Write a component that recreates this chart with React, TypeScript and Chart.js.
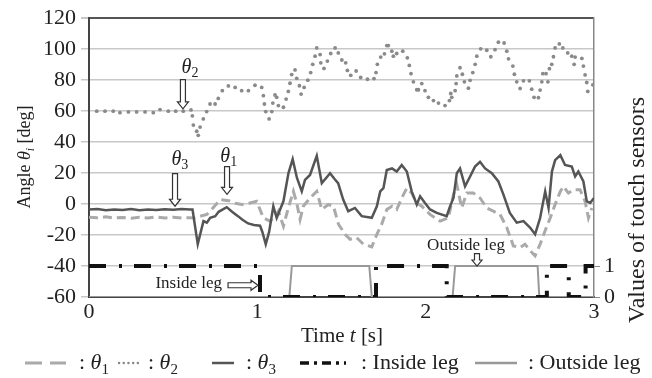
import React, { useEffect, useRef } from "react";
import { Chart, registerables } from "chart.js";

Chart.register(...registerables);

const FONT = '"Liberation Serif", "Times New Roman", serif';

// ---- data ----
const xTicks = [0, 1, 2, 3];
const yLeftTicks = [-60, -40, -20, 0, 20, 40, 60, 80, 100, 120];
const yRightTicks = [0, 1];

const theta1T = [0,0.05,0.1,0.15,0.2,0.25,0.3,0.35,0.4,0.45,0.5,0.55,0.6,0.62,0.7,0.72,0.78,0.83,0.87,0.907,0.95,0.996,1.036,1.075,1.105,1.125,1.155,1.184,1.214,1.234,1.254,1.273,1.313,1.353,1.383,1.422,1.452,1.482,1.521,1.551,1.59,1.63,1.68,1.71,1.739,1.769,1.8,1.828,1.858,1.888,1.917,1.947,1.977,2.026,2.086,2.135,2.165,2.185,2.214,2.244,2.283,2.323,2.363,2.402,2.442,2.482,2.521,2.561,2.59,2.62,2.65,2.68,2.709,2.74,2.769,2.8,2.818,2.848,2.878,2.917,2.947,2.967,2.987];
const theta1V = [-8.5,-8.9,-8.2,-9,-8.6,-9.2,-8.5,-9,-8.3,-9,-8.5,-9,-8.8,-9,-6.7,-4.6,2.9,2.2,0.5,-0.3,0.5,1.8,-8.9,-11,-8,-4.6,-14.2,-2.5,8.2,0.7,-9.9,-1.4,3.9,8.2,-3.5,-0.3,-1.4,-13,-19.5,-22.7,-21.7,-25.9,-27.6,-19.5,-13,-3.5,-1.4,-3.5,3.9,10.3,7.1,0.7,-1.4,-6.7,-11,-8.9,6.1,12.5,-2.5,7.1,7.1,3.9,-2.5,-4.6,-6.7,-15.2,-27,-28,-25.9,-30,-33.4,-25.9,-17.4,-8.9,-0.3,8.2,11.4,7.1,9.3,9.3,1.8,-8.9,-2.5];

const theta2T = [0.046,0.095,0.144,0.184,0.234,0.283,0.333,0.382,0.422,0.471,0.515,0.56,0.606,0.614,0.62,0.64,0.649,0.66,0.679,0.699,0.719,0.749,0.768,0.792,0.828,0.868,0.907,0.947,0.986,1.026,1.036,1.042,1.05,1.07,1.086,1.092,1.105,1.115,1.125,1.155,1.171,1.184,1.194,1.204,1.224,1.234,1.25,1.26,1.278,1.3,1.317,1.329,1.343,1.353,1.373,1.377,1.396,1.416,1.436,1.462,1.481,1.502,1.525,1.535,1.555,1.587,1.614,1.654,1.693,1.705,1.713,1.733,1.755,1.769,1.778,1.799,1.808,1.828,1.864,1.891,1.903,1.913,1.927,1.947,1.957,1.977,1.996,2.016,2.046,2.076,2.115,2.141,2.149,2.155,2.175,2.181,2.185,2.204,2.218,2.23,2.254,2.264,2.28,2.294,2.304,2.327,2.363,2.387,2.412,2.432,2.466,2.482,2.492,2.518,2.527,2.541,2.561,2.581,2.616,2.63,2.644,2.67,2.68,2.69,2.696,2.715,2.726,2.735,2.749,2.759,2.769,2.794,2.815,2.844,2.868,2.882,2.888,2.928,2.937,2.947,2.957,2.963,2.993];
const theta2V = [60,60,60,59,59.5,59.5,59.5,59,61,60,60,60,60.8,57,51,47,44.4,49.7,55,59.7,64.6,64.6,68.2,73.2,76.3,75.3,73.2,73.2,76.7,75.3,70,64.6,59.7,55,59.7,65.2,70.4,68.9,63.6,62.5,67.8,72.7,78,83.6,86.6,81.2,76.4,71,75.3,80,84.9,90.2,95.5,100.8,96.5,91.2,87.6,92.3,97.2,100.8,97.6,93,91.2,86.3,83.1,85.9,81.7,80.6,81,84.9,90.2,94.9,97,102.3,102.3,98.7,95.5,97.2,98.7,94.4,89.5,84.2,78.9,73.8,73.8,77.8,73.2,68.9,66.8,65.2,63.6,66.8,71.4,68.9,73.2,77.8,82.7,88,83.8,78.9,74.8,79.9,84.9,90.2,95.5,100.2,99.3,95.1,99.7,104.5,104,98.7,93.8,89.1,83.8,78.9,74.6,79.6,79.6,74.2,68.9,68.7,73.6,78.9,84.2,84.2,78.9,87.4,90.2,95.1,100.8,103.4,100.8,97.6,95.5,90.2,94.9,94,89.1,83.4,78.5,72.7,77];

const theta3T = [0,0.05,0.1,0.15,0.2,0.25,0.3,0.35,0.4,0.45,0.5,0.55,0.6,0.615,0.646,0.68,0.7,0.72,0.75,0.77,0.818,0.85,0.885,0.91,0.945,0.98,1.016,1.03,1.05,1.07,1.095,1.115,1.155,1.185,1.21,1.235,1.264,1.283,1.313,1.353,1.383,1.41,1.432,1.46,1.48,1.51,1.54,1.58,1.62,1.68,1.71,1.73,1.749,1.769,1.8,1.828,1.858,1.888,1.917,1.947,1.967,1.996,2.026,2.066,2.125,2.145,2.165,2.185,2.204,2.234,2.264,2.293,2.323,2.353,2.393,2.432,2.462,2.5,2.541,2.581,2.62,2.65,2.68,2.71,2.73,2.75,2.769,2.8,2.828,2.868,2.888,2.907,2.937,2.957,2.977,3.0];
const theta3V = [-3.5,-3.2,-4,-3.5,-3.8,-3.2,-4,-3.5,-3.8,-3.3,-3.6,-3.2,-3.5,-3.5,-25.9,-11,-12,-8.9,-7.8,-5,-2,-5,-7.8,-10,-12.5,-13.5,-14,-18,-26,-18,-1.4,-9,1.8,20,29,17,8.2,15.6,18.8,31.2,13.5,17,19.9,16,13.5,2.9,-4.6,-2.5,-7.8,-8.9,-1.4,8.2,10.3,22,23,21,25.2,21,8.2,-0.3,5,0.7,-3.5,-5.7,-7.8,-1.4,3.9,19.9,23,11.4,17.8,24.2,27.3,23,19.9,14.6,6.1,-5.7,-12,-11,-15.2,-19.5,-8.9,8.2,-2.5,21,28.4,31.6,25.2,24.2,17.8,21,14.6,1.8,0.7,3.9];

const insideT = [0, 1.016, 1.705, 2.125, 2.72, 2.85, 2.95, 3.0];
const insideV = [1, 0, 1, 0, 1, 0, 1, 1];

const outsideT = [0, 1.19, 1.205, 1.665, 1.68, 2.16, 2.175, 2.665, 2.675, 3.0];
const outsideV = [0, 0, 1, 1, 0, 0, 1, 1, 0, 0];

const zip = (t: number[], v: number[]) => t.map((x, i) => ({ x, y: v[i] }));

type Part = { t: string; it?: boolean; sub?: boolean };

function rich(ctx: CanvasRenderingContext2D, parts: Part[], x: number, y: number, size: number, align: "center" | "left" = "center") {
  const fontOf = (p: Part) => `${p.it ? "italic " : ""}${p.sub ? Math.round(size * 0.68) : size}px ${FONT}`;
  const widths = parts.map((p) => { ctx.font = fontOf(p); return ctx.measureText(p.t).width; });
  const total = widths.reduce((a, b) => a + b, 0);
  let cx = align === "center" ? x - total / 2 : x;
  ctx.textBaseline = "middle";
  ctx.textAlign = "left";
  parts.forEach((p, i) => {
    ctx.font = fontOf(p);
    ctx.fillText(p.t, cx, y + (p.sub ? size * 0.3 : 0));
    cx += widths[i];
  });
}

function hollowArrow(ctx: CanvasRenderingContext2D, x1: number, y1: number, x2: number, y2: number, shaft = 5, head = 11, headLen = 7) {
  const dx = x2 - x1, dy = y2 - y1;
  const len = Math.hypot(dx, dy);
  const ux = dx / len, uy = dy / len;
  const nx = -uy, ny = ux;
  const neckX = x2 - ux * headLen, neckY = y2 - uy * headLen;
  const pts = [
    [x1 + nx * shaft / 2, y1 + ny * shaft / 2],
    [neckX + nx * shaft / 2, neckY + ny * shaft / 2],
    [neckX + nx * head / 2, neckY + ny * head / 2],
    [x2, y2],
    [neckX - nx * head / 2, neckY - ny * head / 2],
    [neckX - nx * shaft / 2, neckY - ny * shaft / 2],
    [x1 - nx * shaft / 2, y1 - ny * shaft / 2],
  ];
  ctx.beginPath();
  pts.forEach(([px, py], i) => (i ? ctx.lineTo(px, py) : ctx.moveTo(px, py)));
  ctx.closePath();
  ctx.fillStyle = "#fff";
  ctx.fill();
  ctx.strokeStyle = "#333";
  ctx.lineWidth = 1.2;
  ctx.setLineDash([]);
  ctx.stroke();
}

const decorPlugin = {
  id: "decor",
  afterDatasetsDraw(chart: any) {
    const ctx: CanvasRenderingContext2D = chart.ctx;
    const X = chart.scales.x, Y = chart.scales.y, Y2 = chart.scales.y2;
    ctx.save();
    ctx.fillStyle = "#222";
    // theta_2
    rich(ctx, [{ t: "θ", it: true }, { t: "2", sub: true }], X.getPixelForValue(0.6), Y.getPixelForValue(88), 20);
    hollowArrow(ctx, X.getPixelForValue(0.558), Y.getPixelForValue(80.4), X.getPixelForValue(0.558), Y.getPixelForValue(61.5));
    // theta_3
    ctx.fillStyle = "#222";
    rich(ctx, [{ t: "θ", it: true }, { t: "3", sub: true }], X.getPixelForValue(0.54), Y.getPixelForValue(28.6), 20);
    hollowArrow(ctx, X.getPixelForValue(0.511), Y.getPixelForValue(19.7), X.getPixelForValue(0.511), Y.getPixelForValue(-1.4));
    // theta_1
    ctx.fillStyle = "#222";
    rich(ctx, [{ t: "θ", it: true }, { t: "1", sub: true }], X.getPixelForValue(0.83), Y.getPixelForValue(30.5), 20);
    hollowArrow(ctx, X.getPixelForValue(0.82), Y.getPixelForValue(24.2), X.getPixelForValue(0.82), Y.getPixelForValue(6.3));
    // Inside leg
    ctx.fillStyle = "#222";
    ctx.font = `17px ${FONT}`;
    ctx.textAlign = "right";
    ctx.textBaseline = "middle";
    ctx.fillText("Inside leg", X.getPixelForValue(0.79), Y2.getPixelForValue(0.45));
    hollowArrow(ctx, X.getPixelForValue(0.826), Y2.getPixelForValue(0.38), X.getPixelForValue(1.004), Y2.getPixelForValue(0.38), 5, 10, 7);
    // Outside leg
    ctx.fillStyle = "#222";
    ctx.font = `17px ${FONT}`;
    ctx.textAlign = "center";
    ctx.fillText("Outside leg", X.getPixelForValue(2.24), Y2.getPixelForValue(1.66));
    hollowArrow(ctx, X.getPixelForValue(2.305), Y2.getPixelForValue(1.4), X.getPixelForValue(2.305), Y2.getPixelForValue(1.0), 5, 10, 6);
    ctx.restore();
  },
  afterDraw(chart: any) {
    const ctx: CanvasRenderingContext2D = chart.ctx;
    ctx.save();
    ctx.fillStyle = "#222";
    // axis titles
    ctx.save();
    ctx.translate(25, 157);
    ctx.rotate(-Math.PI / 2);
    rich(ctx, [{ t: "Angle " }, { t: "θ", it: true }, { t: "i", it: true, sub: true }, { t: " [deg]" }], 0, 0, 18);
    ctx.restore();
    ctx.save();
    ctx.translate(638, 210);
    ctx.rotate(-Math.PI / 2);
    rich(ctx, [{ t: "Values of touch sensors" }], 0, 0, 24);
    ctx.restore();
    rich(ctx, [{ t: "Time " }, { t: "t", it: true }, { t: " [s]" }], 342, 336, 21);

    // legend
    const ly = 363;
    const seg = (x1: number, x2: number, color: string, w: number, dash: number[], cap: CanvasLineCap = "butt") => {
      ctx.beginPath();
      ctx.setLineDash(dash);
      ctx.lineCap = cap;
      ctx.strokeStyle = color;
      ctx.lineWidth = w;
      ctx.moveTo(x1, ly);
      ctx.lineTo(x2, ly);
      ctx.stroke();
      ctx.setLineDash([]);
      ctx.lineCap = "butt";
    };
    seg(25, 66, "#aaaaaa", 3, [17, 8]);
    ctx.fillStyle = "#222";
    rich(ctx, [{ t: ": " }, { t: "θ", it: true }, { t: "1", sub: true }], 79, ly, 22, "left");
    seg(119, 141, "#888888", 2.4, [0.1, 4.6], "round");
    ctx.fillStyle = "#222";
    rich(ctx, [{ t: ": " }, { t: "θ", it: true }, { t: "2", sub: true }], 148, ly, 22, "left");
    seg(212, 234, "#555555", 2.5, []);
    ctx.fillStyle = "#222";
    rich(ctx, [{ t: ": " }, { t: "θ", it: true }, { t: "3", sub: true }], 246, ly, 22, "left");
    seg(300, 346, "#111111", 3.5, [9, 5, 3, 5]);
    ctx.fillStyle = "#222";
    rich(ctx, [{ t: ": Inside leg" }], 361, ly, 22, "left");
    seg(475, 517, "#999999", 2.5, []);
    ctx.fillStyle = "#222";
    rich(ctx, [{ t: ": Outside leg" }], 528, ly, 22, "left");
    ctx.restore();
  },
};

export default function App() {
  const ref = useRef<HTMLCanvasElement | null>(null);
  useEffect(() => {
    document.body.style.margin = "0";
    const canvas = ref.current!;
    const chart = new Chart(canvas, {
      type: "line",
      data: {
        datasets: [
          {
            label: "Inside leg",
            data: zip(insideT, insideV),
            yAxisID: "y2",
            borderColor: "#111111",
            borderWidth: 4,
            borderDash: [17, 13, 3, 12],
            stepped: "before",
            pointRadius: 0,
          },
          {
            label: "θ3",
            data: zip(theta3T, theta3V),
            yAxisID: "y",
            borderColor: "#555555",
            borderWidth: 2.5,
            pointRadius: 0,
            tension: 0,
          },
          {
            label: "θ2",
            data: zip(theta2T, theta2V),
            yAxisID: "y",
            showLine: false,
            pointRadius: 1.9,
            pointBackgroundColor: "#8a8a8a",
            pointBorderWidth: 0,
            borderColor: "#8a8a8a",
          },
          {
            label: "θ1",
            data: zip(theta1T, theta1V),
            yAxisID: "y",
            borderColor: "#aaaaaa",
            borderWidth: 3,
            borderDash: [9, 5],
            pointRadius: 0,
            tension: 0,
          },
          {
            label: "Outside leg",
            data: zip(outsideT, outsideV),
            yAxisID: "y2",
            borderColor: "#999999",
            borderWidth: 2,
            pointRadius: 0,
          },
        ],
      },
      options: {
        responsive: false,
        animation: false,
        layout: { padding: { top: 15, left: 0, right: 0, bottom: 0 } },
        plugins: { legend: { display: false }, tooltip: { enabled: false } },
        scales: {
          x: {
            type: "linear",
            min: 0,
            max: 3,
            afterBuildTicks: (s: any) => { s.ticks = xTicks.map((v) => ({ value: v })); },
            ticks: { font: { family: FONT, size: 22 }, color: "#222", padding: 2, maxRotation: 0 },
            grid: { display: false, drawTicks: false },
            border: { display: true, color: "#444", width: 2 },
            afterFit: (s: any) => { s.height = 81; },
          },
          y: {
            position: "left",
            min: -60,
            max: 120,
            afterBuildTicks: (s: any) => { s.ticks = yLeftTicks.map((v) => ({ value: v })); },
            ticks: { font: { family: FONT, size: 22 }, color: "#222", padding: 5 },
            grid: {
              color: (c: any) => (c.tick && c.tick.value === 120 ? "#555" : "#c8c8c8"),
              lineWidth: (c: any) => (c.tick && c.tick.value === 120 ? 2 : 1.5),
              tickLength: 8,
              tickColor: "#c8c8c8",
            },
            border: { display: true, color: "#444", width: 2 },
            afterFit: (s: any) => { s.width = 89; },
          },
          y2: {
            position: "right",
            min: 0,
            max: 9,
            afterBuildTicks: (s: any) => { s.ticks = yRightTicks.map((v) => ({ value: v })); },
            ticks: { font: { family: FONT, size: 22 }, color: "#222", padding: 4 },
            grid: { drawOnChartArea: false, tickLength: 6, color: "#888" },
            border: { display: true, color: "#888", width: 1.5 },
            afterFit: (s: any) => { s.width = 58; },
          },
        },
      },
      plugins: [decorPlugin],
    } as any);
    return () => chart.destroy();
  }, []);
  return (
    <div style={{ width: 652, height: 378, background: "#fff" }}>
      <canvas ref={ref} width={652} height={378} />
    </div>
  );
}
